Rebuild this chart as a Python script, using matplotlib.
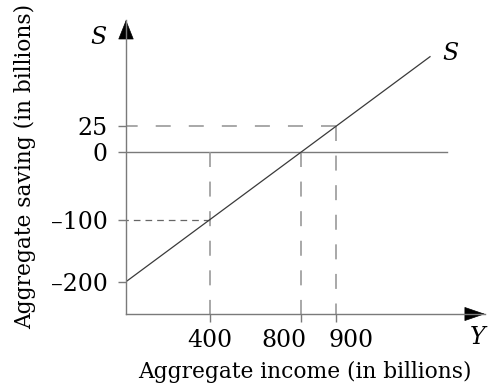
import numpy as np
import matplotlib
matplotlib.use("Agg")
import matplotlib.pyplot as plt
from matplotlib.patches import FancyArrowPatch
from matplotlib.transforms import ScaledTranslation

# ---- data ----
income_ticks = [400, 800, 900]
income_tick_labels = ["400", "800", "900"]
saving_ticks = [-200, -100, 0, 25]
saving_tick_labels = ["\u2013200", "\u2013100", "0", "25"]
s_income = [0, 1250]          # saving function S = -200 + 0.25 Y
s_saving = [-200, 112.5]
point_a = (400, -100)
point_b = (800, 0)
point_c = (900, 25)

# ---- schematic (not-to-scale) axis layout, as in the textbook figure ----
X_KNOTS = [0, 400, 800, 900, 1250, 1500]
X_POS = [126, 209.7, 300.9, 336.3, 430, 485]
Y_KNOTS = [-250, -200, -100, 0, 25, 112.5, 200]
Y_POS = [389 - p for p in [314, 281.7, 219.75, 152.25, 126.05, 56.7, 20]]

plt.rcParams['lines.scale_dashes'] = False
FONT = ['DejaVu Serif']
AX_COL = '#7a7a7a'
DASH_COL = '#9a9a9a'

fig = plt.figure(figsize=(4.88, 3.89), dpi=100)
ax = fig.add_axes([126 / 488, 75 / 389, 359 / 488, 294 / 389])
ax.set_xscale('function', functions=(lambda v: np.interp(v, X_KNOTS, X_POS),
                                     lambda p: np.interp(p, X_POS, X_KNOTS)))
ax.set_yscale('function', functions=(lambda v: np.interp(v, Y_KNOTS, Y_POS),
                                     lambda p: np.interp(p, Y_POS, Y_KNOTS)))
ax.set_xlim(0, 1500)
ax.set_ylim(-250, 200)

for s in ['top', 'right']:
    ax.spines[s].set_visible(False)
for s in ['left', 'bottom']:
    ax.spines[s].set_color(AX_COL)
    ax.spines[s].set_linewidth(1.0)

ax.set_xticks(income_ticks)
ax.set_xticklabels(income_tick_labels, fontfamily=FONT, fontsize=17)
ax.set_yticks(saving_ticks)
ax.set_yticklabels(saving_tick_labels, fontfamily=FONT, fontsize=17)
ax.tick_params(axis='both', direction='out', length=6, width=1.0, color=AX_COL)
ax.tick_params(axis='y', pad=7)
ax.tick_params(axis='x', pad=5)
ax.minorticks_off()

# nudge crowded x tick labels apart (800 left, 900 right) as in the figure
nudges = {"800": -17, "900": 15}
for lab in ax.get_xticklabels():
    dx = nudges.get(lab.get_text(), 0)
    if dx:
        lab.set_transform(lab.get_transform() +
                          ScaledTranslation(dx / 100, 0, fig.dpi_scale_trans))

# zero line
ax.plot([0, 1325], [0, 0], color=AX_COL, lw=1.0)
# dashed guides
ax.plot([point_c[0], 0], [point_c[1], point_c[1]], color=DASH_COL, lw=1.2,
        linestyle=(0, (10.8, 13)))
ax.plot([point_a[0], 0], [point_a[1], point_a[1]], color='#666666', lw=0.9,
        linestyle=(0, (4.8, 3.6)))
for x0, y0 in [(point_a[0], 0), point_b, point_c]:
    ax.plot([x0, x0], [y0, -250], color=DASH_COL, lw=1.2,
            linestyle=(0, (10.8, 10.5)), clip_on=False)

# saving function
ax.plot(s_income, s_saving, color='#3a3a3a', lw=0.9)

# arrow heads
ax.add_patch(FancyArrowPatch((0, 1 - 18 / 294), (0, 1), transform=ax.transAxes,
                             arrowstyle='-|>,head_length=1.3,head_width=0.52',
                             mutation_scale=10, color='black', lw=0.5,
                             shrinkA=0, shrinkB=0, clip_on=False))
ax.add_patch(FancyArrowPatch((1 - 19 / 359, 0), (1, 0), transform=ax.transAxes,
                             arrowstyle='-|>,head_length=1.37,head_width=0.47',
                             mutation_scale=10, color='black', lw=0.5,
                             shrinkA=0, shrinkB=0, clip_on=False))

# letters
ax.annotate('S', xy=(0, 1), xycoords='axes fraction', xytext=(-28, -18),
            textcoords='offset pixels', ha='center', va='center',
            fontfamily=FONT, fontsize=17, style='italic')
ax.annotate('S', xy=(s_income[-1], s_saving[-1]), xytext=(20, 3),
            textcoords='offset pixels', ha='center', va='center',
            fontfamily=FONT, fontsize=17, style='italic')
ax.annotate('Y', xy=(1, 0), xycoords='axes fraction', xytext=(-7, -23),
            textcoords='offset pixels', ha='center', va='center',
            fontfamily=FONT, fontsize=17, style='italic')

fig.text(305 / 488, 1 - 372 / 389, 'Aggregate income (in billions)',
         ha='center', va='center', fontfamily=FONT, fontsize=15.7)
fig.text(25 / 488, 1 - 166 / 389, 'Aggregate saving (in billions)',
         ha='center', va='center', rotation=90, fontfamily=FONT, fontsize=15.7)

fig.savefig('out.png', dpi=100)
